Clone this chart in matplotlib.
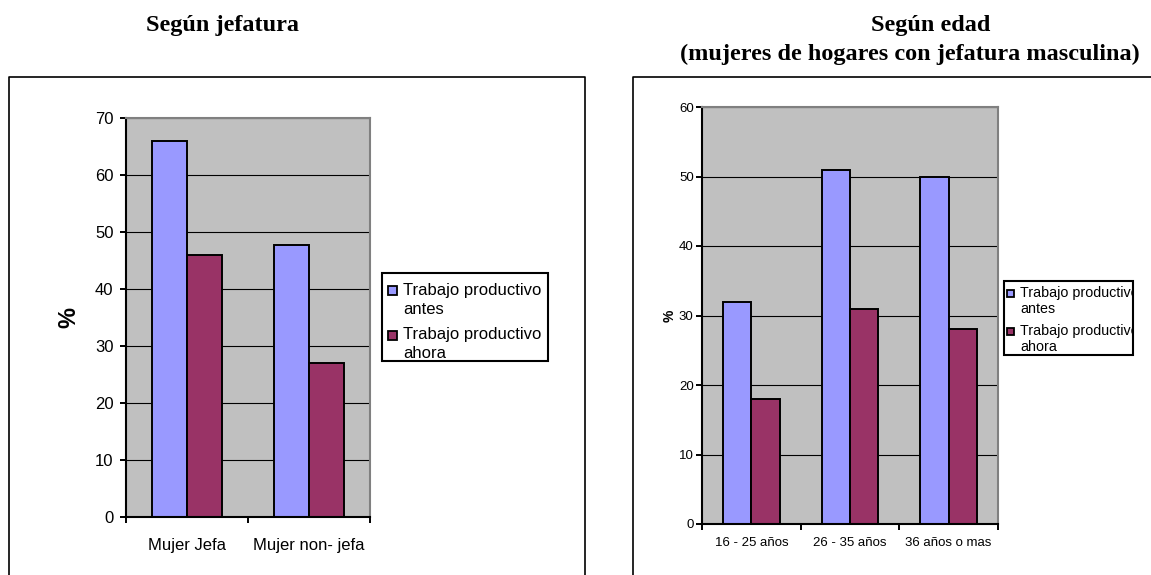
import numpy as np
import matplotlib
matplotlib.use('Agg')
import matplotlib.pyplot as plt
from matplotlib.patches import Rectangle
from matplotlib.lines import Line2D

# data
cats_jefatura = ['Mujer Jefa', 'Mujer non- jefa']
antes_jefatura = [66, 47.8]
ahora_jefatura = [46, 27]

cats_edad = ['16 - 25 años', '26 - 35 años', '36 años o mas']
antes_edad = [32, 51, 50]
ahora_edad = [18, 31, 28]

series = ['Trabajo productivo antes', 'Trabajo productivo ahora']
colors = ['#9999FF', '#993366']

W, H = 1151, 575
plt.rcParams['font.family'] = ['Liberation Sans', 'DejaVu Sans']


def fx(x):
    return x / W


def fy(y):
    return 1 - y / H


def bar_panel(ax, cats, antes, ahora, ymax, fs, ypad, xpad, ylab_fs):
    n = len(cats)
    x = np.arange(n)
    w = 1 / 3.5
    ax.bar(x - w / 2, antes, w, color=colors[0], edgecolor='black', linewidth=1.4, zorder=2)
    ax.bar(x + w / 2, ahora, w, color=colors[1], edgecolor='black', linewidth=1.4, zorder=2)
    ax.set_xlim(-0.5, n - 0.5)
    ax.set_ylim(0, ymax)
    ax.set_yticks(np.arange(0, ymax + 1, 10))
    ax.set_facecolor('#C0C0C0')
    ax.set_axisbelow(True)
    ax.yaxis.grid(True, color='black', linewidth=0.8)
    # category boundaries as major ticks, names on minor ticks
    ax.set_xticks(np.arange(-0.5, n, 1))
    ax.set_xticklabels([])
    ax.set_xticks(x, minor=True)
    ax.set_xticklabels(cats, minor=True, fontsize=fs)
    ax.tick_params(axis='x', which='minor', length=0, pad=xpad)
    ax.tick_params(axis='x', which='major', length=4, width=1.4, direction='out')
    ax.tick_params(axis='y', length=4, width=1.4, labelsize=fs, pad=ypad)
    for s in ['left', 'bottom']:
        ax.spines[s].set_linewidth(1.5)
        ax.spines[s].set_color('black')
    for s in ['top', 'right']:
        ax.spines[s].set_linewidth(1.5)
        ax.spines[s].set_color('#808080')
    ax.set_ylabel('%', fontsize=ylab_fs, fontweight='bold')


def legend_box(fig, x0, y0, x1, y1, msize, tx, lines_y, fs, clip):
    frame = Rectangle((fx(x0), fy(y1)), fx(x1) - fx(x0), fy(y0) - fy(y1),
                      transform=fig.transFigure, fill=True, facecolor='white',
                      edgecolor='black', linewidth=1.5)
    fig.add_artist(frame)
    for i, name in enumerate(series):
        words = name.rsplit(' ', 1)
        ya, yb = lines_y[2 * i], lines_y[2 * i + 1]
        sq = Rectangle((fx(tx - msize - 6), fy(ya + msize / 2)), msize / W, msize / H,
                       transform=fig.transFigure, facecolor=colors[i],
                       edgecolor='black', linewidth=1.3)
        fig.add_artist(sq)
        for line, yy in zip(words, (ya, yb)):
            t = fig.text(fx(tx), fy(yy), line, fontsize=fs, ha='left', va='center')
            if clip:
                t.set_clip_path(frame)


fig = plt.figure(figsize=(W / 100, H / 100), dpi=100)

# outer boxes
fig.add_artist(Line2D([fx(9), fx(9), fx(585), fx(585)], [fy(580), fy(77), fy(77), fy(580)],
                      transform=fig.transFigure, color='black', linewidth=1.2))
fig.add_artist(Line2D([fx(633), fx(633), fx(1160)], [fy(580), fy(77), fy(77)],
                      transform=fig.transFigure, color='black', linewidth=1.2))

ax1 = fig.add_axes([fx(126), fy(517), (370 - 126) / W, (517 - 118) / H])
bar_panel(ax1, cats_jefatura, antes_jefatura, ahora_jefatura, 70, 12, 5, 15, 17)
ax1.yaxis.set_label_coords(-0.185, 0.5)

ax2 = fig.add_axes([fx(702), fy(524), (998 - 702) / W, (524 - 107) / H])
bar_panel(ax2, cats_edad, antes_edad, ahora_edad, 60, 9.5, 2, 9, 10)
ax2.yaxis.set_label_coords(-0.085, 0.5)

legend_box(fig, 382, 273, 548, 361, 9, 403, [290, 309, 335, 353], 12, False)
legend_box(fig, 1004, 281, 1133, 355, 7, 1020, [293, 309, 331, 347], 10.3, True)

# titles
fig.text(fx(222), fy(26), 'Según jefatura', family='Liberation Serif', fontweight='bold',
         fontsize=17.5, ha='center', va='center')
fig.text(fx(931), fy(26), 'Según edad', family='Liberation Serif', fontweight='bold',
         fontsize=17.5, ha='center', va='center')
fig.text(fx(910), fy(54), '(mujeres de hogares con jefatura masculina)', family='Liberation Serif',
         fontweight='bold', fontsize=17.5, ha='center', va='center')

fig.savefig('out.png', dpi=100)
